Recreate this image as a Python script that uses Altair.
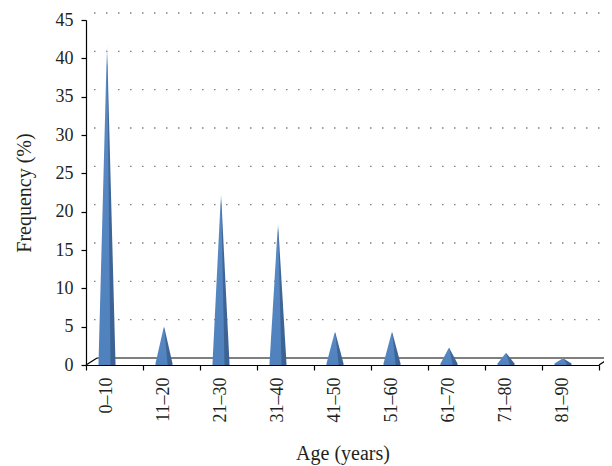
import altair as alt
import pandas as pd

# ---- data ----
ages = ["0–10", "11–20", "21–30", "31–40", "41–50", "51–60", "61–70", "71–80", "81–90"]
freq = [41.8, 4.9, 22.3, 18.4, 4.2, 4.2, 2.1, 1.4, 0.7]
y_ticks = [0, 5, 10, 15, 20, 25, 30, 35, 40, 45]

FONT = "Liberation Serif"
W, H = 513, 345
BAND_PX = W / len(ages)

# pyramid geometry, in pixels relative to band centre (converted to band units)
P_LEFT, P_APEX, P_FRONT_R, P_BACK_R = -16, -7.5, -4, 1
DEPTH_X, DEPTH_Y = 11, -7  # 3-D depth shift of the back wall


def u(px):
    return px / BAND_PX


front_rows, side_rows = [], []
for i, (a, v) in enumerate(zip(ages, freq)):
    c = i + 0.5
    front_rows += [
        {"age": a, "x": c + u(P_LEFT), "y": 0.0},
        {"age": a, "x": c + u(P_APEX), "y": v},
        {"age": a, "x": c + u(P_FRONT_R), "y": 0.0},
    ]
    side_rows += [
        {"age": a, "x": c + u(P_APEX), "y": v},
        {"age": a, "x": c + u(P_BACK_R), "y": 0.0},
    ]
front_df = pd.DataFrame(front_rows)
side_df = pd.DataFrame(side_rows)
grid_df = pd.DataFrame({"y": y_ticks[1:], "x": 0, "x2": len(ages)})
floor_df = pd.DataFrame({"y": [0], "x": [0], "x2": [len(ages)]})
corner_df = pd.DataFrame({"y": [0, 0], "x": [0, len(ages)]})
axis_df = pd.DataFrame({"age": ages, "y": [0] * len(ages)})

y_scale = alt.Scale(domain=[0, 45], nice=False, zero=True)
x_scale = alt.Scale(domain=[0, len(ages)], nice=False, zero=False)


def Y():
    return alt.Y(
        "y:Q",
        scale=y_scale,
        stack=None,
        title="Frequency (%)",
        axis=alt.Axis(
            values=y_ticks,
            grid=False,
            tickSize=5,
            labelPadding=8,
            titlePadding=21,
        ),
    )


def X(field="x"):
    return alt.X(f"{field}:Q", scale=x_scale, axis=None)


front_fill = alt.Gradient(
    gradient="linear",
    x1=0, x2=0, y1=0, y2=1,
    stops=[
        alt.GradientStop(offset=0, color="#ffffff"),
        alt.GradientStop(offset=0.07, color="#5a8ac4"),
        alt.GradientStop(offset=1, color="#4f81bd"),
    ],
)
side_fill = alt.Gradient(
    gradient="linear",
    x1=0, x2=0, y1=0, y2=1,
    stops=[
        alt.GradientStop(offset=0, color="#ffffff"),
        alt.GradientStop(offset=0.07, color="#42699a"),
        alt.GradientStop(offset=1, color="#3b6292"),
    ],
)

# invisible layer that carries the categorical x axis
axis_layer = alt.Chart(axis_df).mark_point(opacity=0).encode(
    x=alt.X(
        "age:N",
        sort=ages,
        scale=alt.Scale(paddingInner=0, paddingOuter=0),
        title="Age (years)",
        axis=alt.Axis(
            labelAngle=270,
            tickBand="extent",
            tickSize=5,
            labelPadding=7,
            labelOffset=-8,
            titlePadding=21,
            domain=True,
        ),
    ),
    y=Y(),
)

grid = alt.Chart(grid_df).mark_rule(
    color="#7f7f7f",
    strokeDash=[1.5, 10.5],
    strokeWidth=1.3,
    xOffset=8,
    x2Offset=DEPTH_X,
    yOffset=DEPTH_Y,
).encode(x=X(), x2="x2:Q", y=Y())

floor_back = alt.Chart(floor_df).mark_rule(
    color="#000000",
    strokeWidth=1.2,
    xOffset=DEPTH_X,
    x2Offset=DEPTH_X,
    yOffset=DEPTH_Y,
).encode(x=X(), x2="x2:Q", y=Y())

floor_sides = alt.Chart(corner_df).mark_rule(
    color="#000000",
    strokeWidth=1.2,
    x2Offset=DEPTH_X,
    y2Offset=DEPTH_Y,
).encode(x=X(), x2="x:Q", y=Y(), y2="y:Q")

side = alt.Chart(side_df).mark_area(
    fill=side_fill, yOffset=-1.5, y2Offset=-1.5
).encode(x=X(), y=Y(), detail="age:N")

front = alt.Chart(front_df).mark_area(
    fill=front_fill, yOffset=-1.5, y2Offset=-1.5
).encode(x=X(), y=Y(), detail="age:N")

chart = (
    alt.layer(axis_layer, grid, floor_back, floor_sides, side, front)
    .resolve_scale(x="independent")
    .properties(
        width=W,
        height=H,
        autosize=alt.AutoSizeParams(type="none"),
        padding={"left": 78, "top": 12, "right": 5, "bottom": 100},
    )
    .configure_view(stroke=None)
    .configure_axis(
        labelFont=FONT,
        titleFont=FONT,
        labelFontSize=18,
        titleFontSize=20,
        titleFontWeight="normal",
        labelColor="#231f20",
        titleColor="#231f20",
        domainColor="#000000",
        tickColor="#000000",
        domainWidth=1.2,
        tickWidth=1.2,
    )
)

chart.save("out.html", embed_options={"renderer": "svg", "actions": False})
